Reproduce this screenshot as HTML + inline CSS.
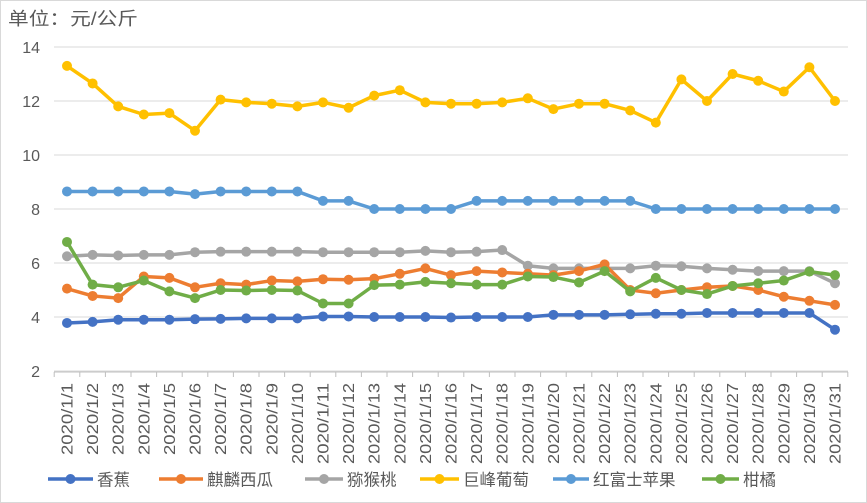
<!DOCTYPE html>
<html><head><meta charset="utf-8"><style>
body{margin:0;background:#fff}
svg{display:block;font-family:"Liberation Sans","Noto Sans CJK SC",sans-serif}
</style></head><body>
<svg id="s" width="867" height="503" xmlns="http://www.w3.org/2000/svg">
<rect x="0.5" y="0.5" width="866" height="502" fill="#fff" stroke="#d9d9d9"/>
<text x="8" y="25" font-size="18" fill="#595959" textLength="130" lengthAdjust="spacingAndGlyphs">单位：元/公斤</text>
<g id="g"></g>
</svg>
<script>
const g=document.getElementById('g');let h='';
const Y=v=>371-(v-2)*27, X=i=>67+i*25.6;
for(let v=2;v<=14;v+=2){h+=`<line x1="54" x2="848" y1="${Y(v)}" y2="${Y(v)}" stroke="#d9d9d9" stroke-width="1"/>`;
h+=`<text x="40" y="${Y(v)+6}" font-size="16" fill="#595959" text-anchor="end">${v}</text>`;}
h+=`<line x1="54" x2="848" y1="372" y2="372" stroke="#bfbfbf"/>`;
for(let i=0;i<=31;i++){let x=54.2+i*25.6;h+=`<line x1="${x}" x2="${x}" y1="372" y2="377" stroke="#bfbfbf"/>`;}
for(let i=0;i<31;i++){const t=`2020/1/${i+1}`;h+=`<text transform="translate(${X(i)+5.5},383) rotate(-90)" font-size="15.5" fill="#595959" text-anchor="end" textLength="${t.length*9}" lengthAdjust="spacingAndGlyphs">${t}</text>`;}
const S=[
["#5B9BD5",[8.65,8.65,8.65,8.65,8.65,8.55,8.65,8.65,8.65,8.65,8.3,8.3,8,8,8,8,8.3,8.3,8.3,8.3,8.3,8.3,8.3,8,8,8,8,8,8,8,8]],
["#FFC000",[13.3,12.65,11.8,11.5,11.55,10.9,12.05,11.95,11.9,11.8,11.95,11.75,12.2,12.4,11.95,11.9,11.9,11.95,12.1,11.7,11.9,11.9,11.65,11.2,12.8,12,13,12.75,12.35,13.25,12]],
["#A5A5A5",[6.25,6.3,6.28,6.3,6.3,6.4,6.42,6.42,6.42,6.42,6.4,6.4,6.4,6.4,6.45,6.4,6.42,6.48,5.9,5.8,5.8,5.8,5.8,5.9,5.88,5.8,5.75,5.7,5.7,5.7,5.25]],
["#ED7D31",[5.05,4.78,4.7,5.5,5.45,5.1,5.25,5.2,5.35,5.32,5.4,5.38,5.42,5.6,5.8,5.55,5.7,5.65,5.6,5.55,5.7,5.95,5,4.88,5,5.1,5.15,5,4.75,4.6,4.45]],
["#70AD47",[6.78,5.2,5.1,5.35,4.95,4.7,5,4.98,5,4.98,4.5,4.5,5.18,5.2,5.3,5.25,5.2,5.2,5.5,5.48,5.28,5.7,4.95,5.45,5,4.85,5.15,5.25,5.35,5.68,5.55]],
["#4472C4",[3.78,3.82,3.9,3.9,3.9,3.92,3.93,3.95,3.95,3.95,4.02,4.02,4,4,4,3.98,4,4,4,4.08,4.08,4.08,4.1,4.12,4.12,4.15,4.15,4.15,4.15,4.15,3.53]]];
for(const [c,d] of S){h+=`<polyline fill="none" stroke="${c}" stroke-width="3.5" stroke-linejoin="round" points="${d.map((v,i)=>X(i)+','+Y(v)).join(' ')}"/>`;
d.forEach((v,i)=>h+=`<circle cx="${X(i)}" cy="${Y(v)}" r="5" fill="${c}"/>`);}
const L=[["#4472C4","香蕉",48,97],["#ED7D31","麒麟西瓜",159,207],["#A5A5A5","猕猴桃",305,347],["#FFC000","巨峰葡萄",420,463],["#5B9BD5","红富士苹果",553,593],["#70AD47","柑橘",702,743]];
for(const [c,t,l,x] of L){h+=`<line x1="${l}" x2="${x-4}" y1="479" y2="479" stroke="${c}" stroke-width="3.5"/><circle cx="${(l+x-4)/2}" cy="479" r="5" fill="${c}"/><text x="${x}" y="485.5" font-size="16.5" fill="#595959">${t}</text>`;}
g.innerHTML=h;
</script>
</body></html>
